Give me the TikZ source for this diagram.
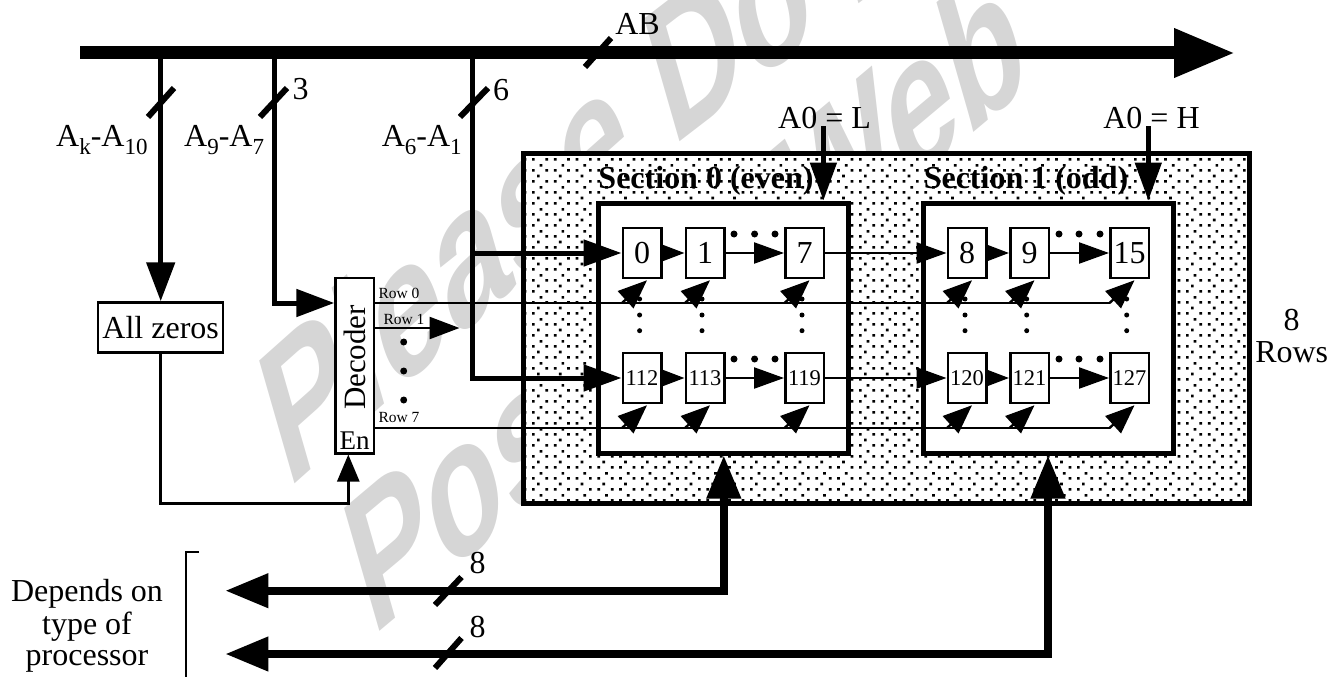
\documentclass[tikz,border=0pt]{standalone}
\usepackage{fontspec}
\setmainfont{Liberation Serif}
\newfontfamily\wmfont{Liberation Sans}
\usetikzlibrary{arrows.meta,calc}
\newcommand{\fs}[1]{\fontsize{#1}{#1}\selectfont}
\newcommand{\sbs}[1]{\raisebox{-8pt}{\fs{23}#1}}
\definecolor{wm}{gray}{0.84}
\tikzset{
  txt/.style={inner sep=0pt,font=\fs{32}},
  cellbox/.style={draw=black,fill=white,line width=2.5pt,minimum width=38.5pt,minimum height=50pt,inner sep=0pt,font=\fs{32}},
  smallcell/.style={cellbox,font=\fs{22.5}},
  secbox/.style={draw=black,fill=white,line width=5pt,minimum width=250pt,minimum height=250pt,inner sep=0pt},
  thick5/.style={line width=5pt,-{Triangle[length=38pt,width=26pt]}},
  thin2/.style={line width=2.4pt},
  headS/.style={line width=2.4pt,-{Triangle[length=22pt,width=16pt]}},
  headM/.style={line width=2.4pt,-{Triangle[length=30pt,width=21pt]}},
  diag/.style={line width=2.4pt,-{Triangle[length=29pt,width=23pt]}},
  slash/.style={line width=6pt},
  sdot/.style={fill=black,circle,inner sep=0pt,minimum size=5pt},
  bdot/.style={fill=black,circle,inner sep=0pt,minimum size=7pt},
  dbus/.style={line width=7.6pt,{Triangle[length=43pt,width=33pt]}-{Triangle[length=43pt,width=33pt]}},
  wmtext/.style={text=wm,transform shape,anchor=base west,inner sep=0pt,font=\wmfont\bfseries\fs{143}},
}
\begin{document}
\begin{tikzpicture}[x=1pt,y=-1pt]
\useasboundingbox (0,0) rectangle (1344,677);
\begin{scope}
\clip (0,0) rectangle (1344,677);
% watermark
\begin{scope}[shift={(287,491)},cm={.78,.695,-.359,1.249,(0,0)}]
\node[wmtext] (wm1) at (0,0) {Please};
\end{scope}
\begin{scope}[shift={(672,148)},cm={.78,.60,-.359,1.249,(0,0)}]
\node[wmtext] (wm1b) at (0,0) {Do Not};
\end{scope}
\begin{scope}[shift={(372,638)},cm={.766,.643,-.359,1.249,(0,0)}]
\node[wmtext] (wm2) at (0,0) {Post on Web};
\end{scope}
\end{scope}
% memory array background
\node[draw=black,fill=white,line width=5pt,minimum width=726pt,minimum height=350pt,inner sep=0pt] (outer) at (886,328) {};
\begin{scope}
\clip (526,156) rectangle (1246,500);
\fill[black]
\foreach \i in {-1,...,33}{\foreach \j in {-2,...,13}{
  \pgfextra{\pgfmathsetmacro{\px}{533.3+21.8*\i}\pgfmathsetmacro{\py}{203.3+22*\j}}
  (\px-1.3,\py-1.3) rectangle ++(2.7,2.7)
  (\px+12.1,\py-1.3) rectangle ++(2.7,2.7)
  (\px-1.3,\py+9.7) rectangle ++(2.7,2.7)
  (\px+12.1,\py+9.7) rectangle ++(2.7,2.7)
  (\px+6.4,\py+4.7) rectangle ++(2.7,2.7)
  (\px+3.7,\py+15.4) rectangle ++(2.7,2.7)
}};
\end{scope}
\node[secbox] (sec0) at (723.8,328) {};
\node[secbox] (sec1) at (1048,328) {};
\node[txt,font=\fs{32}\bfseries] (sl0) at (706,181) {Section 0 (even)};
\node[txt,font=\fs{32}\bfseries] (sl1) at (1026,181) {Section 1 (odd)};
% cells
\node[cellbox] (c0) at (642,253) {0};
\node[cellbox] (c1) at (705,253) {1};
\node[cellbox] (c7) at (804.5,253) {7};
\node[cellbox] (c8) at (967,253) {8};
\node[cellbox] (c9) at (1029.5,253) {9};
\node[cellbox] (c15) at (1129.5,253) {15};
\node[smallcell] (c112) at (642,378) {112};
\node[smallcell] (c113) at (705,378) {113};
\node[smallcell] (c119) at (804.5,378) {119};
\node[smallcell] (c120) at (967,378) {120};
\node[smallcell] (c121) at (1029.5,378) {121};
\node[smallcell] (c127) at (1129.5,378) {127};
% decoder and zero detector
\node[draw=black,fill=white,line width=2.5pt,minimum width=38.5pt,minimum height=175.5pt,inner sep=0pt] (dec) at (354.8,365.5) {};
\node[txt,rotate=90,font=\fs{31}] (dect) at (355,357.5) {Decoder};
\node[txt,font=\fs{27}] (ent) at (354.5,441) {En};
\node[draw=black,fill=white,line width=2.5pt,minimum width=125pt,minimum height=50pt,inner sep=0pt,font=\fs{32}] (zeros) at (160.7,327.5) {All zeros};
% horizontal data chains
\foreach \a/\b in {c0/c1,c8/c9,c112/c113,c120/c121}{\draw[headS] (\a.east) -- (\b.west);}
\foreach \a/\b in {c1/c7,c9/c15,c113/c119,c121/c127}{\draw[headM] (\a.east) -- (\b.west);}
\foreach \a/\b in {c7/c8,c119/c120}{\draw[headM] (\a.east) -- (\b.west);}
% row select lines
\coordinate (r0b) at ($(c15.south)+(-20,23.75)$);
\coordinate (r7b) at ($(c127.south)+(-20,23.75)$);
\coordinate (r0a) at (dec.east |- r0b);
\coordinate (r7a) at (dec.east |- r7b);
\draw[thin2] (r0a) -- (r0b);
\draw[thin2] (r7a) -- (r7b);
\foreach \c in {c0,c1,c7,c8,c9,c15,c112,c113,c119,c120,c121,c127}{
  \draw[diag] ($(\c.south)+(-20,23.75)$) -- ($(\c.south)+(5,1)$);
}
\coordinate (r1a) at (dec.east |- 0,328);
\coordinate (r1b) at (459.5,328);
\draw[line width=2.4pt,-{Triangle[length=30pt,width=22pt]}] (r1a) -- (r1b);
\node[txt,font=\fs{15.5}] (row0) at (399,293) {Row 0};
\node[txt,font=\fs{15.5}] (row1) at (404,319) {Row 1};
\node[txt,font=\fs{15.5}] (row7) at (399,417) {Row 7};
\foreach \y in {342,371,400}{\node[bdot] at (403.7,\y) {};}
\foreach \x in {639.6,702,802,965,1026.7,1126.7}{\foreach \y in {299,315,330.7}{\node[sdot] at (\x,\y) {};}}
\foreach \x in {734,754.6,775}{\foreach \y in {234,359}{\node[bdot] at (\x,\y) {};}}
\foreach \x in {1059,1079,1100}{\foreach \y in {234,359}{\node[bdot] at (\x,\y) {};}}
% address bus
\coordinate (busL) at (80,53);
\coordinate (busR) at (1235,53);
\draw[line width=13pt,-{Triangle[length=61pt,width=46pt]}] (busL) -- (busR);
\coordinate (bk) at (160.7,53);
\coordinate (b9) at (274,53);
\coordinate (b6) at (472.5,53);
\draw[line width=5pt,-{Triangle[length=39pt,width=28pt]}] (bk) -- (zeros.north);
\draw[line width=5pt,-{Triangle[length=38pt,width=27pt]}] (b9) |- (dec.west |- 0,303);
\draw[thick5] (b6) |- (c112.west);
\coordinate (j6) at (470,253);
\draw[thick5] (j6) -- (c0.west);
\draw[line width=2.5pt,-{Triangle[length=27pt,width=22pt]}] (zeros.south) |- (348.3,503.3) -- (dec.south -| 348.3,0);
\coordinate (sAB1) at (585,67);\coordinate (sAB2) at (611,38);
\coordinate (sk1) at (148,117);\coordinate (sk2) at (174,88);
\coordinate (s91) at (260,117);\coordinate (s92) at (287,88);
\coordinate (s61) at (460,117);\coordinate (s62) at (488,88);
\coordinate (sd1) at (435,605);\coordinate (sd2) at (461.5,577);
\coordinate (se1) at (435,668);\coordinate (se2) at (461.5,638);
\foreach \p/\q in {sAB1/sAB2,sk1/sk2,s91/s92,s61/s62,sd1/sd2,se1/se2}{\draw[slash] (\p) -- (\q);}
\node[txt] (lab) at (637.5,24) {AB};
\node[txt] (l3) at (300.5,89) {3};
\node[txt] (l6) at (501,90) {6};
\node[txt,anchor=base west] (lak) at (56,146) {A\sbs{k}-A\sbs{10}};
\node[txt,anchor=base west] (la9) at (184,146) {A\sbs{9}-A\sbs{7}};
\node[txt,anchor=base west] (la6) at (381.6,146) {A\sbs{6}-A\sbs{1}};
% section selects
\node[txt] (a0l) at (824.5,118) {A0 = L};
\node[txt] (a0h) at (1151.5,118) {A0 = H};
\coordinate (a0ls) at (823.4,126);
\coordinate (a0hs) at (1148.3,126);
\draw[line width=5pt,-{Triangle[length=38pt,width=26pt]}] (a0ls) -- (a0ls |- sec0.north);
\draw[line width=5pt,-{Triangle[length=38pt,width=26pt]}] (a0hs) -- (a0hs |- sec1.north);
\node[txt] (r8) at (1291.7,320) {8};
\node[txt] (rr) at (1291.7,352) {Rows};
% data buses
\coordinate (d0) at (225.4,590.7);
\coordinate (d1) at (225.4,654);
\draw[dbus] (sec0.south) |- (d0);
\draw[dbus] (sec1.south) |- (d1);
\node[txt] (n8a) at (477.5,563) {8};
\node[txt] (n8b) at (477.5,626.7) {8};
\coordinate (brA) at (199,552);
\coordinate (brB) at (185.6,552);
\coordinate (brC) at (185.6,677);
\draw[line width=2.2pt] (brA) -- (brB) -- (brC);
\node[txt,anchor=base] (dep1) at (87,601.5) {Depends on};
\node[txt,anchor=base] (dep2) at (87,634) {type of};
\node[txt,anchor=base] (dep3) at (87,665) {processor};
\end{tikzpicture}
\end{document}
